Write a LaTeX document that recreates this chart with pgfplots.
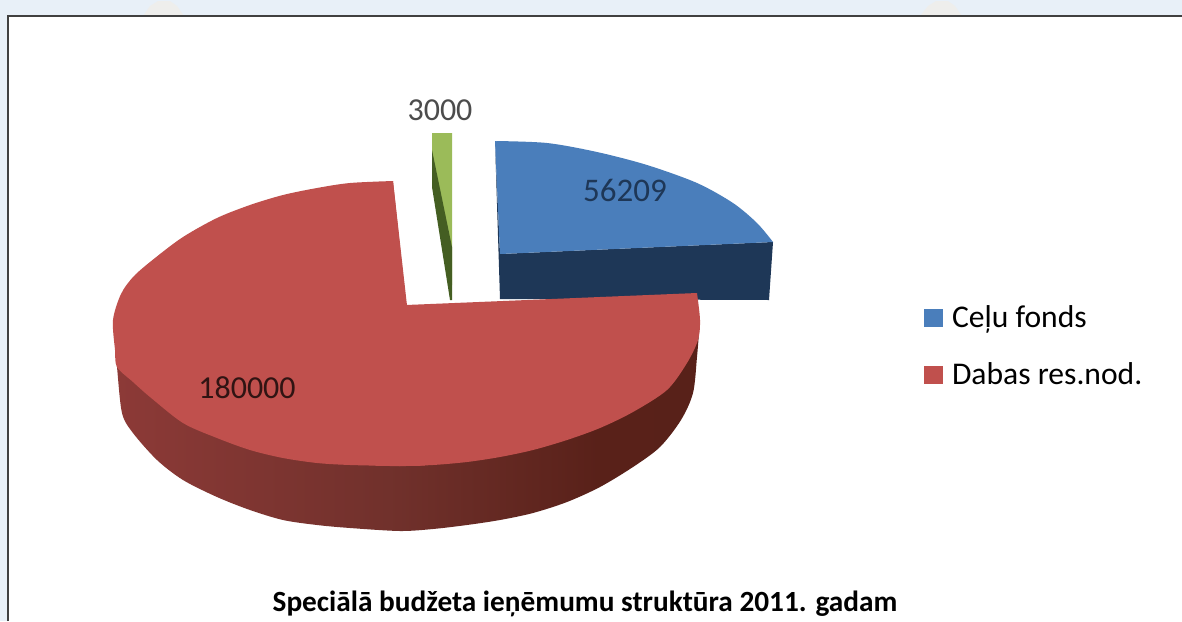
\documentclass[border=0pt]{standalone}
\usepackage{fontspec}
\setmainfont{Carlito}
\usepackage{pgfplots}
\pgfplotsset{compat=1.18}
\definecolor{pagebg}{HTML}{E8F0F8}
\definecolor{bump}{HTML}{EEEEEC}
\definecolor{blueTop}{HTML}{4A7EBB}
\definecolor{blueSide}{HTML}{1E3757}
\definecolor{redTop}{HTML}{C0504D}
\definecolor{greenTop}{HTML}{9BBB59}
\definecolor{greenSide}{HTML}{445E22}
\pgfdeclarehorizontalshading{redside}{100bp}{
  rgb(0bp)=(0.66,0.29,0.27);
  rgb(15bp)=(0.63,0.27,0.25);
  rgb(23bp)=(0.56,0.23,0.22);
  rgb(49bp)=(0.44,0.19,0.17);
  rgb(66bp)=(0.35,0.13,0.10);
  rgb(100bp)=(0.33,0.13,0.10)}
\begin{document}
\begin{tikzpicture}
\begin{axis}[
  scale only axis,
  width=591pt, height=310.5pt,
  xmin=0, xmax=1182, ymin=0, ymax=621,
  y dir=reverse,
  hide axis,
  legend style={at={(axis cs:924,301.5)}, anchor=north west, draw=none, fill=none,
    font=\fontsize{15.8}{19}\selectfont, row sep=12pt, inner sep=0pt, outer sep=0pt},
  legend cell align=left,
  legend image code/.code={\fill[#1] (0pt,-4.7pt) rectangle (9.5pt,4.7pt); \path (12pt,0pt);},
]
% page and frame
\addplot[fill=pagebg, draw=none, forget plot] coordinates {(0,0)(1182,0)(1182,621)(0,621)} --cycle;
\addplot[fill=bump, draw=none, forget plot] coordinates {(143,16)(150,6)(158,1)(170,1)(177,6)(184,16)} --cycle;
\addplot[fill=bump, draw=none, forget plot] coordinates {(920,16)(928,6)(936,1)(948,1)(955,6)(962,16)} --cycle;
\addplot[fill=white, draw=none, forget plot] coordinates {(8,16)(1182,16)(1182,621)(8,621)} --cycle;
\addplot[draw=black!75, line width=1pt, forget plot] coordinates {(8,621)(8,16)(1182,16)};

% blue slice
\addplot[fill=blueSide, draw=none, forget plot] coordinates {(495,141)(500,254)(773,242)(769,300)(500,299)} --cycle;
\addplot[fill=blueTop, draw=none, forget plot] coordinates {(495,141)(600,160)(773,242)(500,254)} --cycle;
\addplot[fill=blueTop, draw=none, smooth] coordinates {
  (495,141)(547,143)(597,152)(647,165)(697,183)(733,203)(757,223)(773,242)} --cycle;
\addlegendentry{Ceļu fonds}

% green slice
\addplot[fill=greenTop, draw=none, forget plot] coordinates {(432,133)(452,133)(452,285)(432,155)} --cycle;
\addplot[fill=greenSide, draw=none, forget plot] coordinates {(432,150)(452,247)(452,300)(450,300)(432,187)} --cycle;

% red slice, side then top
\addplot[shading=redside, draw=none, smooth, forget plot] coordinates {
  (700,320)(697,357)(693,393)(681,420)(660,447)(633,467)(600,487)(567,502)(533,513)
  (500,520)(467,525)(433,529)(400,531)(350,528)(317,525)(283,520)(250,510)(217,497)
  (183,480)(157,460)(133,433)(122,413)(117,367)(115,345)} --cycle;
\addplot[fill=redTop, draw=none, forget plot] coordinates {
  (393,181)(406,305)(697,293)(600,420)(400,460)(200,400)(130,320)(200,235)} --cycle;
\addplot[fill=redTop, draw=none, smooth, forget plot] coordinates {
  (697,293)(700,320)(698,340)(687,363)(667,390)(633,412)(600,428)(567,440)(533,450)
  (500,457)(467,462)(433,465)(400,466)(375,465.8)} --cycle;
\addplot[fill=redTop, draw=none, smooth] coordinates {
  (425,465.6)(400,466)(350,465)(317,463)(283,458)(250,450)(217,438)(183,423)(150,397)(133,382)
  (117,367)(115,350)(113,320)(121,294)(134,276)(155,258)(183,237)(217,218)(250,205)
  (283,195)(317,188)(350,183)(393,181)} --cycle;
\addlegendentry{Dabas res.nod.}

% value labels
\node[font=\fontsize{16}{19}\selectfont, text=black!70] at (axis cs:440,110) {3000};
\node[font=\fontsize{16.5}{19}\selectfont, text=blueSide] at (axis cs:625,190) {56209};
\node[font=\fontsize{16}{19}\selectfont, text=black!75!redTop] at (axis cs:247,388) {180000};
% caption
\node[font=\fontsize{14.65}{17}\selectfont\bfseries, text=black] at (axis cs:585,604) {Speciālā budžeta ieņēmumu struktūra 2011. gadam};
\end{axis}
\end{tikzpicture}
\end{document}
